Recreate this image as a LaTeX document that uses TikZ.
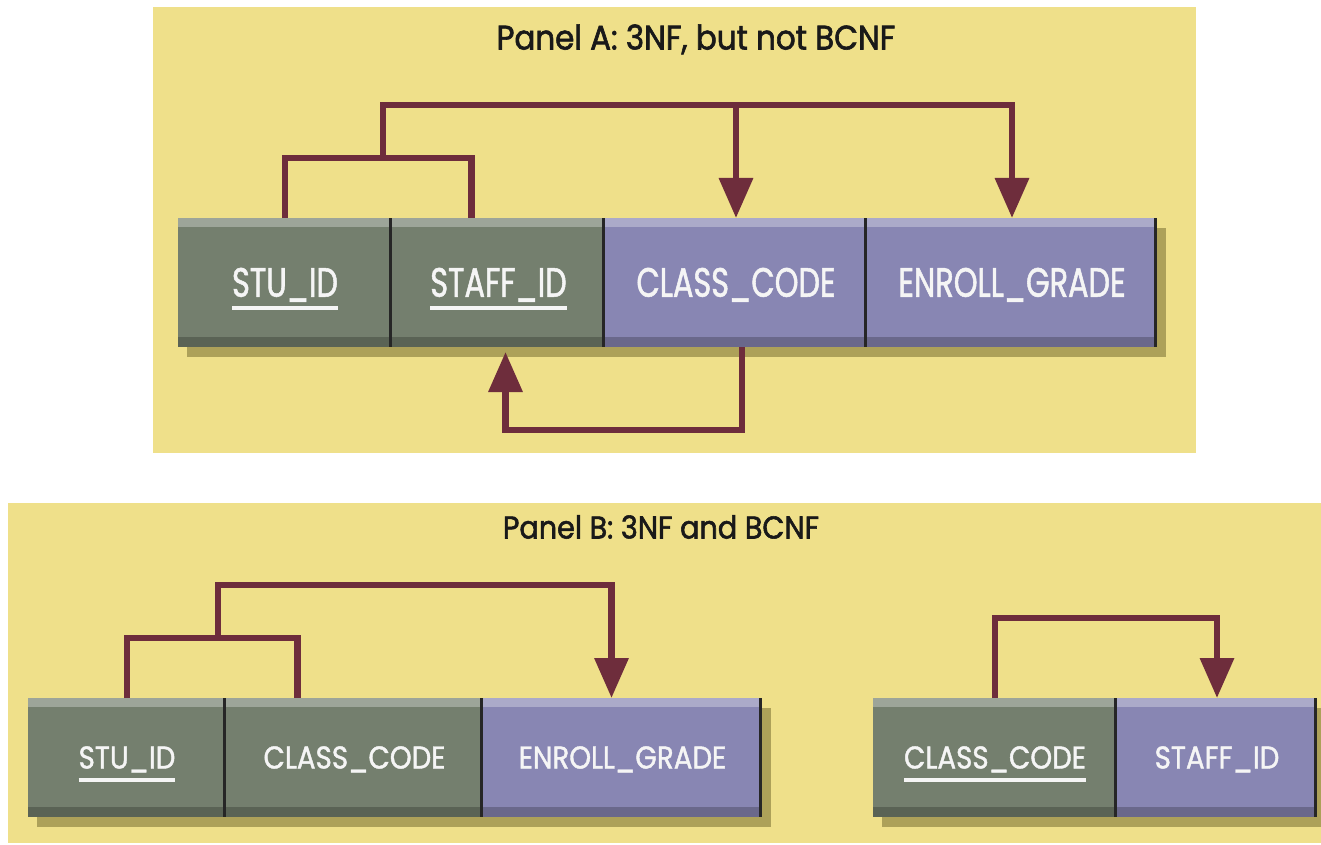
\documentclass[tikz,border=0pt]{standalone}
\usepackage{fontspec}
\usetikzlibrary{positioning,arrows.meta,shadows}
\newfontfamily\labelfontA[FakeStretch=0.74,FakeBold=1.3]{Poppins}
\newfontfamily\labelfontB[FakeStretch=0.88,FakeBold=1.3]{Poppins}
\newfontfamily\titlefont[FakeStretch=0.91,FakeBold=1.8]{Poppins}
\definecolor{panelbg}{RGB}{239,224,138}
\definecolor{keycol}{RGB}{116,127,110}
\definecolor{attrcol}{RGB}{136,134,179}
\definecolor{fdcol}{RGB}{110,45,60}
\definecolor{shadecol}{RGB}{120,110,50}
\newcommand\pkey[1]{\setbox0=\hbox{#1}\usebox0\llap{\rule[-13pt]{\wd0}{4pt}}}
\tikzset{
  cell/.style={rectangle, inner sep=0pt, outer sep=0pt, text=white!96!black, text depth=0pt,
    drop shadow={shadow xshift=9pt, shadow yshift=-10pt, fill=shadecol, opacity=0.55},
    path picture={
      \fill[white, opacity=0.3] (path picture bounding box.north west) rectangle ([yshift=-9pt]path picture bounding box.north east);
      \fill[black, opacity=0.22] (path picture bounding box.south west) rectangle ([yshift=10pt]path picture bounding box.south east);
      \fill[black!85] (path picture bounding box.north east) rectangle ([xshift=-3pt]path picture bounding box.south east);
    }},
  cellA/.style={cell, minimum height=129pt, text height=28.5pt, font=\labelfontA\fontsize{41pt}{41pt}\selectfont},
  cellB/.style={cell, minimum height=119pt, text height=22pt, font=\labelfontB\fontsize{31.5pt}{31.5pt}\selectfont},
  fd/.style={draw=fdcol, line width=6.5pt},
  tip/.style={-{Triangle[length=40pt,width=33pt]}},
  paneltitle/.style={text=black!90, text height=23pt, text depth=0pt, inner sep=0pt},
}
\begin{document}
\begin{tikzpicture}[x=1pt, y=-1pt]
  \useasboundingbox (0,0) rectangle (1321,845);
  \fill[panelbg] (153,7) rectangle (1196,453);
  \fill[panelbg] (8,503) rectangle (1321,843);

  \node[paneltitle, font=\titlefont\fontsize{34pt}{34pt}\selectfont] (ta) at (696,38) {Panel A: 3NF, but not BCNF};
  \node[paneltitle, font=\titlefont\fontsize{31.5pt}{31.5pt}\selectfont] (tb) at (661,527) {Panel B: 3NF and BCNF};

  \node[cellA, fill=keycol, minimum width=214pt, anchor=north west] (a1) at (178,218) {\pkey{STU\_ID}};
  \node[cellA, fill=keycol, minimum width=213pt, right=0pt of a1] (a2) {\pkey{STAFF\_ID}};
  \node[cellA, fill=attrcol, minimum width=262pt, right=0pt of a2] (a3) {CLASS\_CODE};
  \node[cellA, fill=attrcol, minimum width=290pt, right=0pt of a3] (a4) {ENROLL\_GRADE};

  \node[cellB, fill=keycol, minimum width=198pt, anchor=north west] (b1) at (28,698) {\pkey{STU\_ID}};
  \node[cellB, fill=keycol, minimum width=257pt, right=0pt of b1] (b2) {CLASS\_CODE};
  \node[cellB, fill=attrcol, minimum width=279pt, right=0pt of b2] (b3) {ENROLL\_GRADE};
  \node[cellB, fill=keycol, minimum width=244pt, anchor=north west] (b4) at (873,698) {\pkey{CLASS\_CODE}};
  \node[cellB, fill=attrcol, minimum width=200pt, right=0pt of b4] (b5) {STAFF\_ID};

  \draw[fd] (a1.north) -- ++(0,-60) -| ([xshift=-27pt]a2.north);
  \path (a1.north) ++(98,-60) coordinate (ja);
  \draw[fd, tip] (ja) -- ++(0,-53) coordinate (ka) -| (a4.north);
  \draw[fd, tip] (a3.north |- ka) -- (a3.north);
  \draw[fd, tip] ([xshift=6pt]a3.south) -- ++(0,83) -| ([xshift=7pt,yshift=-5pt]a2.south);

  \draw[fd] (b1.north) -- ++(0,-60) -| ([xshift=-57pt]b2.north);
  \path (b1.north) ++(91,-60) coordinate (jb);
  \draw[fd, tip] (jb) -- ++(0,-53) -| ([xshift=-11pt]b3.north);
  \draw[fd, tip] (b4.north) -- ++(0,-80) -| (b5.north);
\end{tikzpicture}
\end{document}
